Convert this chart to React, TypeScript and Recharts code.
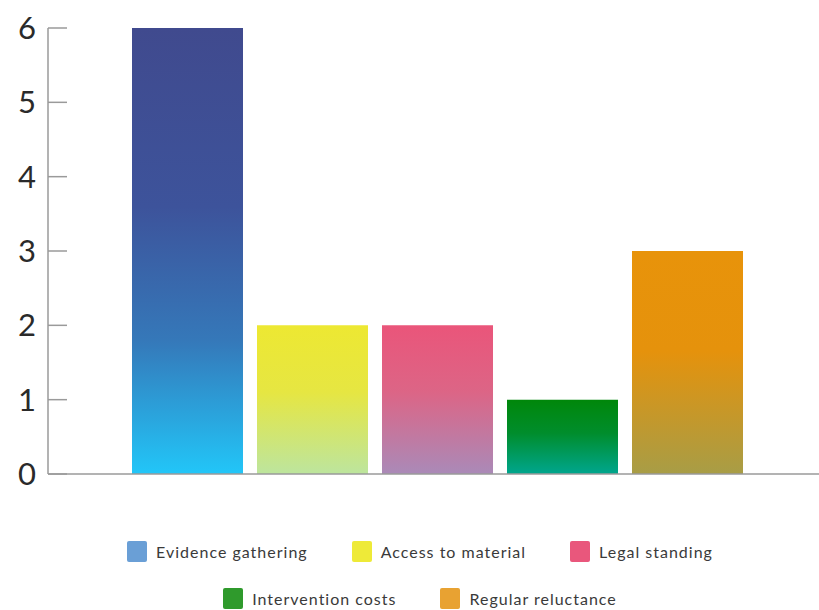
import { BarChart, Bar, XAxis, YAxis, Legend } from 'recharts';

const SERIES_KEYS = ['evidence', 'access', 'legal', 'intervention', 'regular'];
const SERIES_NAMES = [
  'Evidence gathering',
  'Access to material',
  'Legal standing',
  'Intervention costs',
  'Regular reluctance',
];
const SERIES_VALUES = [6, 2, 2, 1, 3];
const Y_TICKS = [0, 1, 2, 3, 4, 5, 6];

const LEGEND_COLORS = ['#6a9fd6', '#eeea38', '#e9577c', '#2f9a2c', '#e8a232'];

// vertical gradient stops per bar: [offset, color]
const GRADIENTS: Array<Array<[string, string]>> = [
  [['0%', '#404a8e'], ['40%', '#3d539b'], ['70%', '#3578b9'], ['100%', '#22c6f8']],
  [['0%', '#ede832'], ['45%', '#e6e642'], ['100%', '#bde59e']],
  [['0%', '#ea557a'], ['45%', '#dc6586'], ['100%', '#aa8ab8']],
  [['0%', '#00870a'], ['45%', '#008d2c'], ['100%', '#00a68e']],
  [['0%', '#e8930a'], ['45%', '#e5920c'], ['100%', '#a89d46']],
];

const row: Record<string, string | number> = { name: '' };
SERIES_KEYS.forEach((k, i) => {
  row[k] = SERIES_VALUES[i];
});
const data = [row];

const AXIS_COLOR = '#9a9a9a';
const FONT = 'Lato, "Open Sans", "Noto Sans", sans-serif';

function YTick({ x, y, payload }: { x: number; y: number; payload: { value: number } }) {
  return (
    <g>
      <line x1={x} y1={y} x2={x + 19} y2={y} stroke={AXIS_COLOR} strokeWidth={1.5} />
      <text
        x={x - 12}
        y={y}
        dy={11}
        textAnchor="end"
        fill="#2a2a2a"
        fontSize={31}
        fontWeight={400}
        fontFamily={FONT}
      >
        {payload.value}
      </text>
    </g>
  );
}

function LegendItem({ color, label }: { color: string; label: string }) {
  return (
    <div style={{ display: 'flex', alignItems: 'center', margin: '0 22px' }}>
      <span
        style={{
          width: 20,
          height: 21,
          background: color,
          borderRadius: 2,
          marginRight: 9,
          display: 'inline-block',
        }}
      />
      <span style={{ fontSize: 16, letterSpacing: 1, color: '#3a3a3a', fontFamily: FONT }}>
        {label}
      </span>
    </div>
  );
}

function TwoRowLegend() {
  const items = SERIES_NAMES.map((name, i) => ({ name, color: LEGEND_COLORS[i] }));
  const rows = [items.slice(0, 3), items.slice(3)];
  return (
    <div style={{ height: 80, width: 819, paddingLeft: 21, boxSizing: 'border-box', paddingTop: 11 }}>
      {rows.map((r, ri) => (
        <div
          key={ri}
          style={{
            display: 'flex',
            justifyContent: 'center',
            height: 21,
            marginTop: ri === 0 ? 0 : 26,
          }}
        >
          {r.map((it) => (
            <LegendItem key={it.name} color={it.color} label={it.name} />
          ))}
        </div>
      ))}
    </div>
  );
}

export default function App() {
  return (
    <div style={{ position: 'absolute', top: 0, left: 0, width: 819, height: 610, overflowX: 'clip', background: '#fff' }}>
      <BarChart
        width={826}
        height={610}
        data={data}
        margin={{ top: 28, right: 0, left: 0, bottom: 0 }}
        barSize={111}
        barGap={14}
      >
        <defs>
          {GRADIENTS.map((stops, i) => (
            <linearGradient key={i} id={`grad${i}`} x1="0" y1="0" x2="0" y2="1">
              {stops.map(([off, c]) => (
                <stop key={off} offset={off} stopColor={c} />
              ))}
            </linearGradient>
          ))}
        </defs>
        <XAxis
          dataKey="name"
          height={56}
          tick={false}
          tickLine={false}
          axisLine={{ stroke: AXIS_COLOR, strokeWidth: 1.5 }}
        />
        <YAxis
          width={48}
          domain={[0, 6]}
          ticks={Y_TICKS}
          tickSize={0}
          tickMargin={0}
          tick={YTick}
          axisLine={{ stroke: AXIS_COLOR, strokeWidth: 1.5 }}
        />
        <Legend verticalAlign="bottom" content={<TwoRowLegend />} />
        {SERIES_KEYS.map((k, i) => (
          <Bar
            key={k}
            dataKey={k}
            name={SERIES_NAMES[i]}
            fill={`url(#grad${i})`}
            isAnimationActive={false}
          />
        ))}
      </BarChart>
    </div>
  );
}
